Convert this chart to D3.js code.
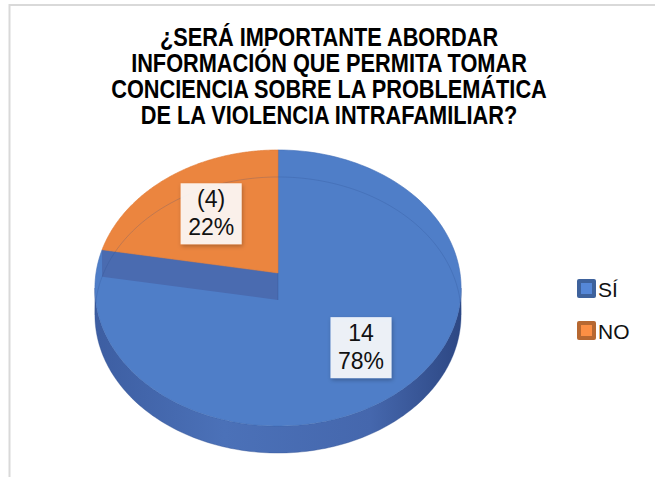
<!DOCTYPE html>
<html>
<head>
<meta charset="utf-8">
<script src="https://cdn.jsdelivr.net/npm/d3@7"></script>
<style>
  body { margin: 0; background: #fff; }
  svg { display: block; font-family: "Liberation Sans", Arial, sans-serif; }
</style>
</head>
<body>
<div id="chart"></div>
<script>
// data
const titleLines = [
    "¿SERÁ IMPORTANTE ABORDAR",
    "INFORMACIÓN QUE PERMITA TOMAR",
    "CONCIENCIA SOBRE LA PROBLEMÁTICA",
    "DE LA VIOLENCIA INTRAFAMILIAR?"
];
const categories = ["SÍ", "NO"];
const values = [14, 4];
const valueLabels = ["14", "(4)"];

const width = 655;
const height = 477;

const svg = d3.select("#chart").append("svg").attr("width", width).attr("height", height);
const defs = svg.append("defs");

// side wall shading
const grad = defs.append("linearGradient").attr("id", "side")
    .attr("gradientUnits", "userSpaceOnUse").attr("x1", 96).attr("x2", 462).attr("y1", 0).attr("y2", 0);
[["0%", "#3d5ea2"], ["35%", "#4b71b8"], ["75%", "#4567ad"], ["100%", "#2d4783"]]
    .forEach(([o, c]) => grad.append("stop").attr("offset", o).attr("stop-color", c));

const shadow = defs.append("filter").attr("id", "shadow").attr("x", "-20%").attr("y", "-20%").attr("width", "140%").attr("height", "140%");
shadow.append("feDropShadow").attr("dx", 1).attr("dy", 2).attr("stdDeviation", 2).attr("flood-color", "#000").attr("flood-opacity", 0.3);

// chart frame
svg.append("rect")
    .attr("x", 9.5).attr("y", 5).attr("width", 700).attr("height", 520)
    .attr("fill", "none").attr("stroke", "#d9d9d9").attr("stroke-width", 2);

// title (narrow bold)
const title = svg.append("g").attr("transform", "translate(329,0) scale(0.87,1)");
title.selectAll("text").data(titleLines).join("text")
    .attr("x", 0)
    .attr("y", (d, i) => 46 + i * 26)
    .attr("text-anchor", "middle")
    .attr("font-size", 25)
    .attr("font-weight", "bold")
    .attr("fill", "#000")
    .text((d) => d);

// 3D pie, simple perspective projection of a disc
const cx = 278, cy = 273, sx = 182, sy = 136.4, k = 0.1087, depth = 27;
const proj = (a, r, z = 0) => {
    const X = r * Math.sin(a), Y = -r * Math.cos(a), w = 1 - k * Y;
    return [cx + (sx * X) / w, cy + (sy * Y) / w + z];
};
const arcPts = (a0, a1, r, z) => d3.range(0, 1.0001, 1 / 150).map((t) => proj(a0 + (a1 - a0) * t, r, z));
const line = d3.line();

const color = d3.scaleOrdinal().domain(categories).range(["#4f7ec8", "#eb853f"]);
const faceColor = d3.scaleOrdinal().domain(categories).range(["#4a6bb0", "#c9692c"]);

const pie = d3.pie().sort(null).value((d) => d);
const arcs = pie(values);
const total = d3.sum(values);
const pct = d3.format(".0%");

const g = svg.append("g");

// front side wall (visible between the two silhouette points)
const aRight = Math.acos(-k), aLeft = 2 * Math.PI - Math.acos(-k);
arcs.forEach((d, i) => {
    const a0 = Math.max(d.startAngle, aRight), a1 = Math.min(d.endAngle, aLeft);
    if (a1 <= a0) return;
    const pts = arcPts(a0, a1, 1, 0).concat(arcPts(a1, a0, 1, depth));
    g.append("path").attr("d", line(pts) + "Z").attr("fill", "url(#side)")
        .attr("stroke", "#2f4f8f").attr("stroke-width", 0.6).attr("stroke-opacity", 0.6);
});

const topFace = (d) => line([proj(0, 0)].concat(arcPts(d.startAngle, d.endAngle, 1, 0))) + "Z";

// big slice top
g.append("path").attr("d", topFace(arcs[0])).attr("fill", color(categories[0]))
    .attr("stroke", "#4470b8").attr("stroke-width", 0.6);

// hidden cut face of the big slice seen through the translucent top
const aEnd = arcs[0].endAngle;
g.append("path")
    .attr("d", line([proj(0, 0), proj(aEnd, 1), proj(aEnd, 1, depth), proj(0, 0, depth)]) + "Z")
    .attr("fill", faceColor(categories[0]));

// small slice top
g.append("path").attr("d", topFace(arcs[1])).attr("fill", color(categories[1]))
    .attr("stroke", "#e07a35").attr("stroke-width", 0.6);

// faint bottom outline at the back, seen through
g.append("path")
    .attr("d", line(arcPts(aLeft, aRight + 2 * Math.PI, 1, depth)))
    .attr("fill", "none").attr("stroke", "#2a4a8a").attr("stroke-opacity", 0.22).attr("stroke-width", 1);
g.append("path")
    .attr("d", line([proj(0, 0), proj(0, 0, depth)]))
    .attr("stroke", "#2a4a8a").attr("stroke-opacity", 0.3);

// data labels
const labelRadius = [0.67, 0.6];
arcs.forEach((d, i) => {
    const mid = (d.startAngle + d.endAngle) / 2;
    const [lx, ly] = proj(mid, labelRadius[i]);
    const lg = svg.append("g").attr("transform", `translate(${lx},${ly})`);
    const box = lg.append("rect").attr("fill", "#fff").attr("fill-opacity", 0.88).attr("filter", "url(#shadow)");
    const lines = [valueLabels[i], pct(d.data / total)];
    const txt = lg.selectAll("text").data(lines).join("text")
        .attr("x", 0)
        .attr("y", (t, j) => (j - 0.5) * 28)
        .attr("dy", "0.35em")
        .attr("text-anchor", "middle")
        .attr("font-size", 23)
        .attr("fill", "#111")
        .text((t) => t);
    const w = d3.max(txt.nodes(), (n) => n.getComputedTextLength()) + 15;
    box.attr("x", -w / 2).attr("y", -30).attr("width", w).attr("height", 61);
});

// legend
const legend = svg.append("g").attr("transform", "translate(577,279)");
const item = legend.selectAll("g").data(categories).join("g")
    .attr("transform", (d, i) => `translate(0,${i * 42})`);
item.append("rect").attr("width", 19).attr("height", 19).attr("rx", 2)
    .attr("fill", (d) => d3.color(color(d)).darker(0.7));
item.append("rect").attr("x", 4).attr("y", 4).attr("width", 11).attr("height", 11)
    .attr("fill", (d) => d3.color(color(d)).brighter(0.2));
item.append("text").attr("x", 21).attr("y", 10).attr("dy", "0.36em")
    .attr("font-size", 21).attr("fill", "#111").text((d) => d);
</script>
</body>
</html>
